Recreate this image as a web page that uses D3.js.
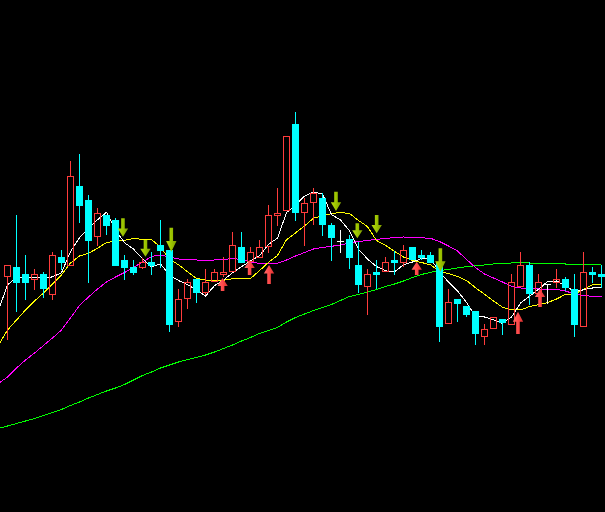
<!DOCTYPE html>
<html><head><meta charset="utf-8">
<script src="https://cdn.jsdelivr.net/npm/d3@7/dist/d3.min.js"></script>
<style>html,body{margin:0;padding:0;background:#000;overflow:hidden}</style>
</head><body>
<svg id="chart" width="605" height="512"></svg>
<script>
// ---- candle data (price) ----
const open = [7.23,7.333,7.26,7.20,7.26,7.053,7.433,7.343,8.14,8.00,
 7.627,7.85,7.80,7.40,7.333,7.323,7.377,7.55,7.50,6.783,
 7.007,7.21,7.073,7.177,7.253,7.277,7.533,7.377,7.423,7.533,
 7.843,7.893,8.76,7.867,7.967,8.017,7.75,7.593,7.607,7.35,
 7.127,7.277,7.277,7.40,7.373,7.53,7.45,7.45,7.38,6.757,
 7.01,6.94,6.89,6.633,6.707,6.807,6.75,7.127,7.35,7.057,
 7.157,7.173,7.207,7.107,6.733,7.277,7.26];
const high = [7.35,7.85,7.45,7.31,7.283,7.48,7.50,8.39,8.46,8.05,
 7.92,7.85,7.82,7.45,7.40,7.42,7.483,7.80,7.50,7.107,
 7.207,7.21,7.31,7.31,7.427,7.683,7.683,7.533,7.60,7.95,
 8.117,8.64,8.883,8.017,8.117,8.067,7.767,7.70,7.65,7.583,
 7.31,7.40,7.427,7.49,7.55,7.53,7.50,7.477,7.45,7.11,
 7.01,6.94,6.89,6.757,6.833,6.807,7.26,7.483,7.377,7.26,
 7.157,7.31,7.233,7.26,7.477,7.333,7.35];
const low = [6.60,6.883,7.00,7.10,7.023,7.00,7.30,7.343,7.767,7.173,
 7.54,7.65,7.34,7.20,7.25,7.31,7.25,7.323,6.683,6.733,
 6.907,6.97,7.05,7.177,7.233,7.277,7.373,7.27,7.423,7.473,
 7.74,7.893,7.793,7.54,7.75,7.643,7.393,7.473,7.307,7.067,
 6.85,7.11,7.277,7.25,7.333,7.40,7.40,7.367,6.583,6.757,
 6.783,6.833,6.55,6.55,6.707,6.65,6.75,7.127,6.95,7.057,
 6.96,7.117,7.09,6.633,6.733,7.167,7.117];
const close = [7.35,7.173,7.173,7.26,7.107,7.447,7.373,8.24,7.943,7.593,
 7.867,7.74,7.34,7.323,7.273,7.383,7.34,7.493,6.75,7.01,
 7.177,7.073,7.183,7.277,7.28,7.55,7.373,7.477,7.53,7.85,
 7.867,8.64,7.867,7.967,8.067,7.75,7.623,7.593,7.423,7.15,
 7.26,7.25,7.377,7.373,7.50,7.40,7.423,7.367,6.73,6.977,
 6.957,6.85,6.657,6.71,6.833,6.773,7.177,7.35,7.057,7.177,
 7.157,7.207,7.117,6.75,7.277,7.25,7.227];

// ---- moving averages (first value belongs to the bar just before the first visible one) ----
const ma5 = [6.90,7.15,7.225,7.23,7.23,7.213,7.232,7.272,7.485,7.622,
 7.719,7.803,7.877,7.697,7.573,7.509,7.412,7.332,7.362,7.248,
 7.195,7.154,7.101,7.039,7.144,7.198,7.273,7.333,7.391,7.442,
 7.556,7.619,7.873,7.951,8.038,8.082,8.058,7.855,7.80,7.691,
 7.508,7.41,7.335,7.292,7.282,7.352,7.38,7.415,7.413,7.284,
 7.179,7.091,6.976,6.834,6.83,6.801,6.765,6.83,6.969,7.038,
 7.107,7.184,7.19,7.143,7.082,7.102,7.12,7.124];
const ma10 = [6.55,6.70,6.80,6.90,6.99,7.07,7.16,7.25,7.37,7.44,
 7.466,7.518,7.574,7.591,7.597,7.614,7.607,7.604,7.529,7.41,
 7.352,7.283,7.216,7.20,7.196,7.197,7.213,7.217,7.215,7.293,
 7.377,7.446,7.603,7.671,7.74,7.819,7.839,7.864,7.875,7.865,
 7.795,7.734,7.595,7.546,7.487,7.43,7.395,7.375,7.352,7.283,
 7.266,7.235,7.195,7.123,7.057,6.99,6.928,6.903,6.901,6.934,
 6.954,6.974,7.01,7.056,7.06,7.104,7.152,7.157];
const ma30 = [6.165,6.23,6.32,6.40,6.47,6.545,6.62,6.70,6.82,6.945,
 7.03,7.11,7.18,7.23,7.275,7.325,7.38,7.435,7.45,7.43,
 7.41,7.405,7.40,7.397,7.40,7.405,7.415,7.405,7.38,7.367,
 7.367,7.367,7.40,7.44,7.475,7.51,7.525,7.537,7.55,7.57,
 7.585,7.595,7.607,7.615,7.625,7.63,7.627,7.622,7.617,7.585,
 7.54,7.49,7.405,7.325,7.26,7.22,7.18,7.137,7.12,7.115,
 7.11,7.11,7.107,7.09,7.06,7.045,7.037,7.033];
const ma60 = [5.715,5.74,5.765,5.79,5.815,5.845,5.875,5.905,5.945,5.98,
 6.02,6.055,6.09,6.12,6.155,6.20,6.245,6.28,6.32,6.35,
 6.38,6.405,6.425,6.45,6.48,6.515,6.55,6.59,6.625,6.665,
 6.695,6.725,6.78,6.825,6.86,6.895,6.925,6.955,6.995,7.035,
 7.055,7.08,7.105,7.135,7.16,7.19,7.225,7.255,7.277,7.295,
 7.305,7.32,7.333,7.343,7.35,7.36,7.365,7.37,7.373,7.37,
 7.367,7.365,7.363,7.36,7.36,7.358,7.357,7.356];

// ---- signals (bar position, arrow tail price, arrow tip price) ----
const sellPos  = [12.83, 15.33, 18.2, 36.5, 38.87, 41.02, 48.1];
const sellTail = [7.817, 7.60, 7.723, 8.083, 7.767, 7.85, 7.517];
const sellTip  = [7.633, 7.433, 7.483, 7.89, 7.617, 7.667, 7.283];
const buyPos  = [23.9, 26.9, 29.06, 45.47, 56.72, 59.17];
const buyTip  = [7.22, 7.40, 7.35, 7.383, 6.883, 7.11];
const buyTail = [7.09, 7.25, 7.16, 7.25, 6.66, 6.93];

const W = 605, H = 512;
const svg = d3.select("#chart");
svg.append("rect").attr("width", W).attr("height", H).attr("fill", "#000");

const x = d3.scaleLinear().domain([0, 66]).range([7.5, 601.5]);
const y = d3.scaleLinear().domain([4.88, 10]).range([H, 0]);

const defs = svg.append("defs");
function grad(id, c1, c2, c3) {
  const g = defs.append("linearGradient").attr("id", id).attr("x1", "0").attr("x2", "1").attr("y1", "0").attr("y2", "0");
  g.append("stop").attr("offset", "0").attr("stop-color", c1);
  g.append("stop").attr("offset", "0.5").attr("stop-color", c2);
  g.append("stop").attr("offset", "1").attr("stop-color", c3);
}
grad("gSell", "#b8dc10", "#9cc400", "#7e9e00");
grad("gBuy", "#ff6a6a", "#ff4a4a", "#d83030");

// ---- moving average lines ----
const line = d3.line().x((d, i) => x(i - 1)).y(d => y(d));
const maDefs = [[ma60, "#00ff00"], [ma30, "#ff00ff"], [ma10, "#ffff00"], [ma5, "#ffffff"]];
svg.append("g").selectAll("path").data(maDefs).join("path")
  .attr("d", d => line(d[0]))
  .attr("fill", "none")
  .attr("stroke", d => d[1])
  .attr("stroke-width", 1)
  .attr("shape-rendering", "crispEdges");

// ---- candles ----
const idx = d3.range(open.length);
const gC = svg.append("g");
const RED = "#ff3c3c", CYAN = "#00ffff", WHITE = "#ffffff";
idx.forEach(i => {
  const cx = x(i);
  const o = open[i], c = close[i];
  const yTop = Math.round(y(Math.max(o, c)));
  const yBot = Math.round(y(Math.min(o, c)));
  const yH = Math.round(y(high[i])), yL = Math.round(y(low[i]));
  if (c > o) {
    if (yH < yTop) gC.append("line").attr("x1", cx).attr("x2", cx).attr("y1", yH).attr("y2", yTop).attr("stroke", RED);
    if (yL > yBot) gC.append("line").attr("x1", cx).attr("x2", cx).attr("y1", yBot).attr("y2", yL).attr("stroke", RED);
    gC.append("rect").attr("x", cx - 3).attr("y", yTop + 0.5).attr("width", 6).attr("height", Math.max(1, yBot - yTop - 1))
      .attr("fill", "none").attr("stroke", RED).attr("stroke-width", 1);
  } else if (c < o) {
    gC.append("line").attr("x1", cx).attr("x2", cx).attr("y1", yH).attr("y2", yL).attr("stroke", CYAN);
    gC.append("rect").attr("x", cx - 3.5).attr("y", yTop).attr("width", 7).attr("height", Math.max(1, yBot - yTop))
      .attr("fill", CYAN).attr("shape-rendering", "crispEdges");
  } else {
    gC.append("line").attr("x1", cx).attr("x2", cx).attr("y1", yH).attr("y2", yL).attr("stroke", WHITE);
    gC.append("line").attr("x1", cx - 3.5).attr("x2", cx + 3.5).attr("y1", yTop + 0.5).attr("y2", yTop + 0.5).attr("stroke", WHITE);
  }
});

// ---- signal arrows ----
function arrowPath(cx, yTail, yTip) {
  const dir = yTip > yTail ? 1 : -1;
  const L = Math.abs(yTip - yTail);
  const head = Math.max(8, L * 0.45);
  const yb = yTip - dir * head;
  return `M${cx - 1.8},${yTail} L${cx + 1.8},${yTail} L${cx + 1.8},${yb} L${cx + 5.2},${yb} L${cx},${yTip} L${cx - 5.2},${yb} L${cx - 1.8},${yb} Z`;
}
const gA = svg.append("g");
gA.selectAll("path.sell").data(sellPos).join("path").attr("class", "sell")
  .attr("d", (p, i) => arrowPath(x(p), y(sellTail[i]), y(sellTip[i])))
  .attr("fill", "url(#gSell)");
gA.selectAll("path.buy").data(buyPos).join("path").attr("class", "buy")
  .attr("d", (p, i) => arrowPath(x(p), y(buyTail[i]), y(buyTip[i])))
  .attr("fill", "url(#gBuy)");
</script>
</body></html>
